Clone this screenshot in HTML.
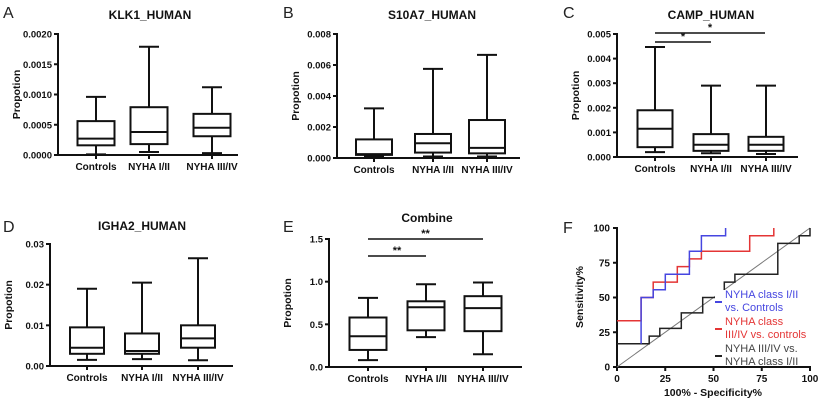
<!DOCTYPE html>
<html><head><meta charset="utf-8"><style>
html,body{margin:0;padding:0;background:#fff;}
svg{display:block;font-family:"Liberation Sans",Arial,sans-serif;}
</style></head><body>
<svg id="s" width="824" height="406" viewBox="0 0 824 406" xmlns="http://www.w3.org/2000/svg"></svg>
<script>
var S=document.getElementById('s'),h='';
function L(x1,y1,x2,y2,c,w){h+='<line x1="'+x1+'" y1="'+y1+'" x2="'+x2+'" y2="'+y2+'" stroke="'+(c||'#111')+'" stroke-width="'+(w||2)+'"/>';}
function T(x,y,t,o){o=o||{};h+='<text x="'+x+'" y="'+y+'" font-size="'+(o.s||9.5)+'" font-weight="'+(o.w||'bold')+'" fill="'+(o.c||'#111')+'" text-anchor="'+(o.a||'middle')+'"'+(o.r?' transform="rotate(-90 '+x+' '+y+')"':'')+'>'+t+'</text>';}
function panel(p){
 var Y=function(v){return p.yb-(v/p.max)*(p.yb-p.yt);};
 L(p.ax,p.yt-1,p.ax,p.yb+1);L(p.ax-1,p.yb,p.xe,p.yb);
 for(var i=0;i<p.ticks.length;i++){var y=Y(p.ticks[i][0]);L(p.ax-4,y,p.ax,y);T(p.ax-6,y+3.5,p.ticks[i][1],{a:'end'});}
 T(p.ax-38,(p.yt+p.yb)/2,'Propotion',{r:1,s:10.5});
 T(p.tx,p.ty,p.title,{s:12});
 T(p.lx,p.ly,p.letter,{s:16,w:'normal',a:'start',c:'#222'});
 var names=['Controls','NYHA I/II','NYHA III/IV'];
 for(var j=0;j<3;j++){var c=p.cx[j],b=p.b[j],bw=p.bw/2;
  L(c,p.yb,c,p.yb+4);T(c,p.yb+15,names[j],{s:10});
  L(c,Y(b[0]),c,Y(b[1]));L(c,Y(b[3]),c,Y(b[4]));
  L(c-10,Y(b[0]),c+10,Y(b[0]));L(c-10,Y(b[4]),c+10,Y(b[4]));
  h+='<rect x="'+(c-bw)+'" y="'+Y(b[3])+'" width="'+p.bw+'" height="'+(Y(b[1])-Y(b[3]))+'" fill="#fff" stroke="#111" stroke-width="2"/>';
  L(c-bw,Y(b[2]),c+bw,Y(b[2]));
 }
 (p.sig||[]).forEach(function(s){L(s[0],s[2],s[1],s[2],'#111',1.5);T((s[0]+s[1])/2,s[2]-2,s[3],{s:11});});
}
panel({ax:58,yt:34,yb:155,xe:238,max:0.002,ticks:[[0,'0.0000'],[0.0005,'0.0005'],[0.001,'0.0010'],[0.0015,'0.0015'],[0.002,'0.0020']],
 title:'KLK1_HUMAN',tx:150,ty:19,letter:'A',lx:3,ly:18,cx:[96,149,212],bw:37,
 b:[[0.00001,0.00016,0.00027,0.00056,0.00096],[0.00005,0.00018,0.00038,0.00079,0.00179],[0.00003,0.00031,0.00045,0.00068,0.00112]]});
panel({ax:337,yt:34,yb:158,xe:520,max:0.008,ticks:[[0,'0.000'],[0.002,'0.002'],[0.004,'0.004'],[0.006,'0.006'],[0.008,'0.008']],
 title:'S10A7_HUMAN',tx:432,ty:19,letter:'B',lx:283,ly:18,cx:[374,433,487],bw:36,
 b:[[0.0001,0.0002,0.00025,0.0012,0.0032],[0.0001,0.00035,0.00095,0.00155,0.00575],[0.0001,0.0003,0.00065,0.00245,0.00665]]});
panel({ax:617,yt:34,yb:157,xe:798,max:0.005,ticks:[[0,'0.000'],[0.001,'0.001'],[0.002,'0.002'],[0.003,'0.003'],[0.004,'0.004'],[0.005,'0.005']],
 title:'CAMP_HUMAN',tx:711,ty:19,letter:'C',lx:563,ly:18,cx:[655,711,766],bw:35,
 b:[[0.0002,0.0004,0.00115,0.0019,0.00447],[0.00015,0.00025,0.0005,0.00093,0.0029],[0.00012,0.00025,0.0005,0.00082,0.0029]],
 sig:[[655,711,42,'*'],[655,765,33,'*']]});
panel({ax:50,yt:244,yb:366,xe:233,max:0.03,ticks:[[0,'0.00'],[0.01,'0.01'],[0.02,'0.02'],[0.03,'0.03']],
 title:'IGHA2_HUMAN',tx:142,ty:230,letter:'D',lx:3,ly:232,cx:[87,142,198],bw:34,
 b:[[0.0015,0.003,0.0045,0.0095,0.019],[0.0017,0.003,0.0037,0.008,0.0205],[0.0014,0.0045,0.0068,0.01,0.0265]]});
panel({ax:329,yt:239,yb:367,xe:522,max:1.5,ticks:[[0,'0.0'],[0.5,'0.5'],[1,'1.0'],[1.5,'1.5']],
 title:'Combine',tx:427,ty:222,letter:'E',lx:283,ly:232,cx:[368,426,483],bw:37,
 b:[[0.08,0.2,0.36,0.58,0.81],[0.35,0.43,0.7,0.77,0.97],[0.15,0.42,0.69,0.83,0.99]],
 sig:[[368,426,256,'**'],[368,483,239,'**']]});
(function(){
 var X=function(v){return 617+v*1.93;},Y=function(v){return 367-v*1.39;};
 T(563,233,'F',{s:16,w:'normal',a:'start',c:'#222'});
 L(617,227,617,368);L(616,367,811,367);
 [0,25,50,75,100].forEach(function(v){L(613,Y(v),617,Y(v));T(610,Y(v)+3.5,v,{a:'end',s:10});L(X(v),367,X(v),371);T(X(v),382,v,{s:10});});
 T(583,297,'Sensitivity%',{r:1,s:10.5});
 T(713,396,'100% - Specificity%',{s:10.5});
 L(X(0),Y(0),X(100),Y(100),'#777',1);
 function P(pts,c){var d='M';for(var i=0;i<pts.length;i++){d+=(i?' L':'')+X(pts[i][0]).toFixed(1)+' '+Y(pts[i][1]).toFixed(1);}h+='<path d="'+d+'" fill="none" stroke="'+c+'" stroke-width="1.5"/>';}
 P([[0,16.7],[16.7,16.7],[16.7,22.2],[22.2,22.2],[22.2,27.8],[33.3,27.8],[33.3,38.9],[44.4,38.9],[44.4,50],[55.6,50],[55.6,61.1],[61.1,61.1],[61.1,66.7],[83.3,66.7],[83.3,88.9],[94.4,88.9],[94.4,94.4],[100,94.4],[100,100]],'#222');
 P([[0,33.3],[12.5,33.3],[12.5,50],[18.75,50],[18.75,61.1],[31.25,61.1],[31.25,72.2],[37.5,72.2],[37.5,77.8],[43.75,77.8],[43.75,83.3],[68.75,83.3],[68.75,94.4],[81.25,94.4],[81.25,100]],'#e43535');
 P([[12.5,16.7],[12.5,50],[18.75,50],[18.75,55.6],[25,55.6],[25,66.7],[37.5,66.7],[37.5,83.3],[43.75,83.3],[43.75,94.4],[56.25,94.4],[56.25,100]],'#4646e0');
 h+='<rect x="715" y="290" width="94" height="76" fill="#fff"/>';
 L(715,302,722,302,'#4646e0',2);L(715,329,722,329,'#e43535',2);L(715,356,722,356,'#222',2);
 var o={a:'start',s:11,w:'normal'};
 o.c='#4646e0';T(725,298,'NYHA class I/II',o);T(725,311,'vs. Controls',o);
 o.c='#e43535';T(725,325,'NYHA class',o);T(725,338,'III/IV  vs. controls',o);
 o.c='#444';T(725,352,'NYHA III/IV  vs.',o);T(725,365,'NYHA class I/II',o);
})();
S.innerHTML=h;
</script>
</body></html>
